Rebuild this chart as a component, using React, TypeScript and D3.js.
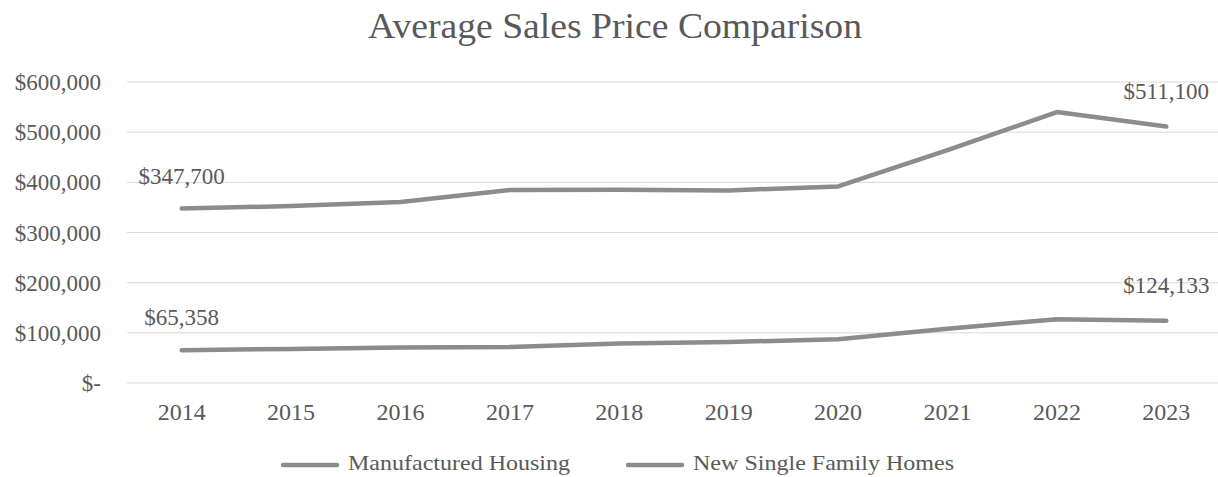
import * as React from "react";
import * as d3 from "d3";

const years = ["2014", "2015", "2016", "2017", "2018", "2019", "2020", "2021", "2022", "2023"];
const manufactured = [65358, 68000, 70600, 71900, 78500, 81900, 87000, 108100, 127300, 124133];
const newSingle = [347700, 352700, 360900, 384900, 385000, 383900, 391900, 464200, 540000, 511100];
const yTicks = [0, 100000, 200000, 300000, 400000, 500000, 600000];
const seriesNames = ["Manufactured Housing", "New Single Family Homes"];

const W = 1218;
const H = 477;
const FONT = "'Liberation Serif', 'Times New Roman', serif";
const TEXT = "#595959";
const LINE = "#8c8c8c";

const fmtMoney = (v: number) => (v === 0 ? "$-" : "$" + d3.format(",")(v));

// legend layout (marker x, text width)
const legendPos = [
  { x: 283, w: 222 },
  { x: 628, w: 261 },
];

export default function App() {
  const x = d3.scaleBand<string>().domain(years).range([127, 1221]);
  const y = d3.scaleLinear().domain([0, 600000]).range([383, 82]);
  const cx = (d: string) => (x(d) ?? 0) + x.bandwidth() / 2;

  const line = d3
    .line<number>()
    .x((_, i) => cx(years[i]))
    .y((v) => y(v));

  const series = [manufactured, newSingle];
  const last = years.length - 1;

  return (
    <svg
      width={W}
      height={H}
      style={{ position: "absolute", left: 0, top: 0, background: "#fff" }}
      fontFamily={FONT}
    >
      <text
        x={615}
        y={38}
        textAnchor="middle"
        fontSize={35}
        fill={TEXT}
        textLength={494}
        lengthAdjust="spacingAndGlyphs"
      >
        Average Sales Price Comparison
      </text>

      {/* grid + y axis labels */}
      {yTicks.map((t) => (
        <g key={t}>
          <line x1={127} x2={1218} y1={y(t)} y2={y(t)} stroke="#d9d9d9" strokeWidth={1} />
          <text x={101} y={y(t)} dy="0.35em" textAnchor="end" fontSize={23} fill={TEXT}>
            {fmtMoney(t)}
          </text>
        </g>
      ))}

      {/* x axis labels */}
      {years.map((yr) => (
        <text key={yr} x={cx(yr)} y={420} textAnchor="middle" fontSize={24} fill={TEXT}>
          {yr}
        </text>
      ))}

      {/* lines */}
      {series.map((s, i) => (
        <path
          key={i}
          d={line(s) ?? ""}
          fill="none"
          stroke={LINE}
          strokeWidth={4.5}
          strokeLinecap="round"
          strokeLinejoin="round"
        />
      ))}

      {/* data labels for first and last points */}
      {series.map((s, i) => (
        <g key={"lab" + i}>
          <text x={cx(years[0])} y={y(s[0]) - 25} textAnchor="middle" fontSize={23} fill={TEXT}>
            {fmtMoney(s[0])}
          </text>
          <text x={cx(years[last])} y={y(s[last]) - 28} textAnchor="middle" fontSize={23} fill={TEXT}>
            {fmtMoney(s[last])}
          </text>
        </g>
      ))}

      {/* legend */}
      {seriesNames.map((name, i) => {
        const { x: lx, w } = legendPos[i];
        return (
          <g key={name}>
            <line x1={lx} x2={lx + 54} y1={465} y2={465} stroke={LINE} strokeWidth={4.5} strokeLinecap="round" />
            <text
              x={lx + 65}
              y={470}
              fontSize={22}
              fill={TEXT}
              textLength={w}
              lengthAdjust="spacingAndGlyphs"
            >
              {name}
            </text>
          </g>
        );
      })}
    </svg>
  );
}
